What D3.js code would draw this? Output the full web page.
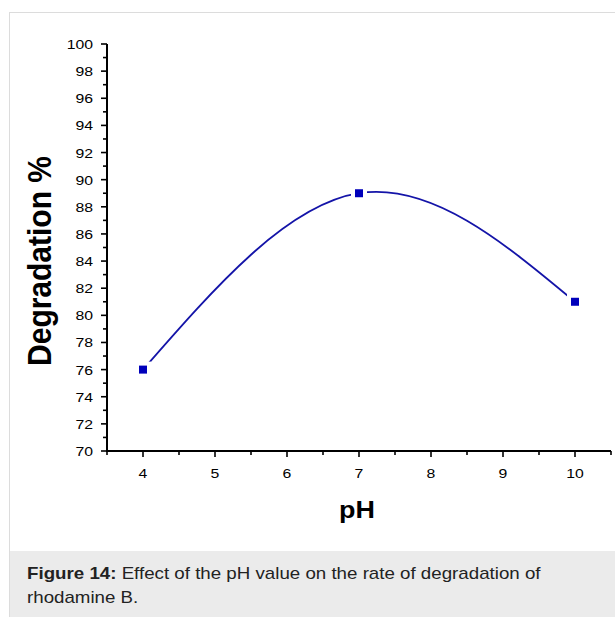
<!DOCTYPE html>
<html>
<head>
<meta charset="utf-8">
<script src="https://cdn.jsdelivr.net/npm/d3@7"></script>
<style>
  body { margin: 0; background: #fff; }
  svg { display: block; }
</style>
</head>
<body>
<div id="chart"></div>
<script>
const phValues = [4, 7, 10];
const degradation = [76, 89, 81];
const xTicks = [4, 5, 6, 7, 8, 9, 10];
const yTicks = [70, 72, 74, 76, 78, 80, 82, 84, 86, 88, 90, 92, 94, 96, 98, 100];
const captionBold = "Figure 14:";
const captionLine1 = " Effect of the pH value on the rate of degradation of";
const captionLine2 = "rhodamine B.";

const width = 615;
const height = 617;
const font = "'Liberation Sans', Arial, sans-serif";
// the reference picture is a bit wider than tall, so text gets stretched sideways
const stretch = 1.17;

const svg = d3.select("#chart").append("svg")
    .attr("width", width)
    .attr("height", height)

// frame and caption panel
svg.append("rect")
    .attr("x", 9.5).attr("y", 12.5)
    .attr("width", width).attr("height", height)
    .attr("fill", "#fff")
    .attr("stroke", "#dcdcdc")

svg.append("rect")
    .attr("x", 10).attr("y", 551)
    .attr("width", width - 10).attr("height", height - 551)
    .attr("fill", "#ebebeb")

const capG = svg.append("g")
    .attr("transform", `translate(27, 0) scale(${stretch}, 1)`)
const cap = capG.append("text")
    .attr("x", 0).attr("y", 579)
    .style("font-family", font)
    .style("font-size", "16px")
    .attr("fill", "#222")
cap.append("tspan").style("font-weight", "bold").text(captionBold)
cap.append("tspan").text(captionLine1)
capG.append("text")
    .attr("x", 0).attr("y", 603)
    .style("font-family", font)
    .style("font-size", "16px")
    .attr("fill", "#222")
    .text(captionLine2)

// scales
const x = d3.scaleLinear().domain([3.5, 10.5]).range([107, 611])
const y = d3.scaleLinear().domain([70, 100]).range([451, 44])

// axes
const xAxis = svg.append("g").attr("transform", "translate(0, 451)")
xAxis.append("line")
    .attr("x1", x(3.5)).attr("x2", x(10.5))
    .attr("stroke", "#000").attr("stroke-width", 2)
xAxis.selectAll("line.major")
    .data(xTicks)
    .join("line")
    .attr("class", "major")
    .attr("x1", d => x(d)).attr("x2", d => x(d))
    .attr("y1", 0).attr("y2", 6)
    .attr("stroke", "#000").attr("stroke-width", 1.6)
xAxis.selectAll("line.minor")
    .data(d3.range(3.5, 10.6, 1))
    .join("line")
    .attr("class", "minor")
    .attr("x1", d => x(d)).attr("x2", d => x(d))
    .attr("y1", 0).attr("y2", 4)
    .attr("stroke", "#000").attr("stroke-width", 1.6)
xAxis.selectAll("text")
    .data(xTicks)
    .join("text")
    .attr("transform", d => `translate(${x(d)}, 27) scale(${stretch}, 1)`)
    .attr("text-anchor", "middle")
    .style("font-family", font)
    .style("font-size", "13.5px")
    .text(d => d)

const yAxis = svg.append("g").attr("transform", "translate(107, 0)")
yAxis.append("line")
    .attr("y1", y(70) + 1).attr("y2", y(100))
    .attr("stroke", "#000").attr("stroke-width", 2)
yAxis.selectAll("line.major")
    .data(yTicks)
    .join("line")
    .attr("class", "major")
    .attr("y1", d => y(d)).attr("y2", d => y(d))
    .attr("x1", 0).attr("x2", -6)
    .attr("stroke", "#000").attr("stroke-width", 1.6)
yAxis.selectAll("line.minor")
    .data(d3.range(71, 100, 2))
    .join("line")
    .attr("class", "minor")
    .attr("y1", d => y(d)).attr("y2", d => y(d))
    .attr("x1", 0).attr("x2", -4)
    .attr("stroke", "#000").attr("stroke-width", 1.6)
yAxis.selectAll("text")
    .data(yTicks)
    .join("text")
    .attr("transform", d => `translate(-14, ${y(d) + 5}) scale(${stretch}, 1)`)
    .attr("text-anchor", "end")
    .style("font-family", font)
    .style("font-size", "13.5px")
    .text(d => d)

// axis titles
svg.append("text")
    .attr("transform", "translate(51, 261) scale(1.1, 1) rotate(-90)")
    .attr("text-anchor", "middle")
    .style("font-family", font)
    .style("font-size", "30px")
    .style("font-weight", "bold")
    .text("Degradation %")

svg.append("text")
    .attr("transform", `translate(357, 518) scale(${stretch}, 1)`)
    .attr("text-anchor", "middle")
    .style("font-family", font)
    .style("font-size", "23px")
    .style("font-weight", "bold")
    .text("pH")

// data
const points = phValues.map((d, i) => [d, degradation[i]])
const line = d3.line()
    .x(d => x(d[0]))
    .y(d => y(d[1]))
    .curve(d3.curveNatural)

svg.append("path")
    .attr("d", line(points))
    .attr("fill", "none")
    .attr("stroke", "#1414a8")
    .attr("stroke-width", 1.8)

// gaps around the symbols, like Origin draws them
svg.selectAll("rect.gap")
    .data(points)
    .join("rect")
    .attr("class", "gap")
    .attr("x", d => x(d[0]) - 8).attr("y", d => y(d[1]) - 8)
    .attr("width", 16).attr("height", 16)
    .attr("fill", "#fff")

svg.selectAll("rect.pt")
    .data(points)
    .join("rect")
    .attr("class", "pt")
    .attr("x", d => x(d[0]) - 4).attr("y", d => y(d[1]) - 4)
    .attr("width", 8).attr("height", 8)
    .attr("fill", "#0000bb")
</script>
</body>
</html>
